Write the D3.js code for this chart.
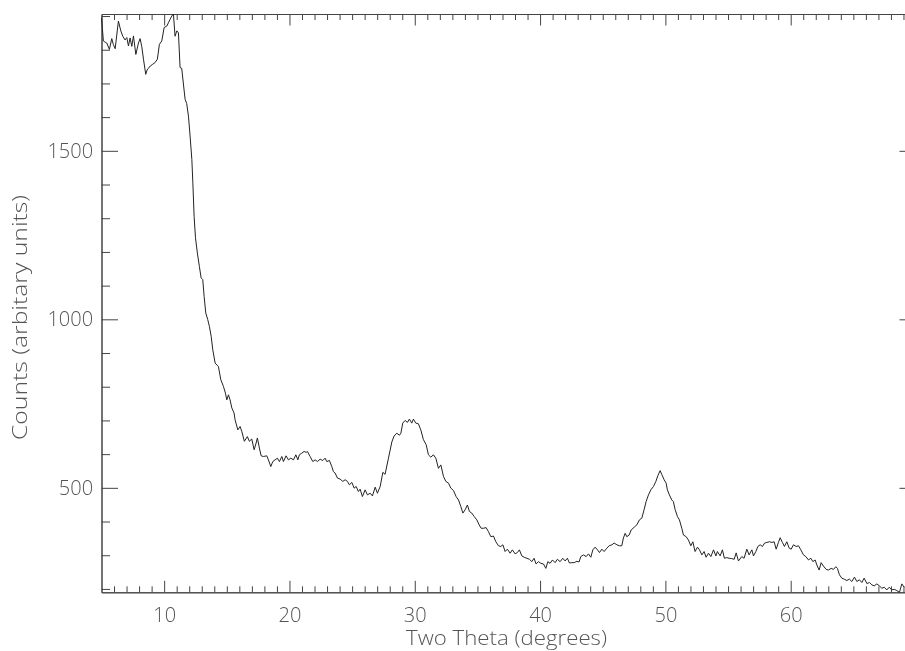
<!DOCTYPE html>
<html>
<head>
<meta charset="utf-8">
<script src="https://cdn.jsdelivr.net/npm/d3@7"></script>
<style>
  html, body { margin: 0; padding: 0; background: #fff; }
  svg { display: block; filter: grayscale(100%); }
  .lbl { font-family: "Open Sans", "DejaVu Sans", sans-serif; font-weight: 300; fill: #555; }
</style>
</head>
<body>
<svg id="chart" width="905" height="651"></svg>
<script>
// Diffraction scan: two-theta angle (degrees) and detector counts
const twoTheta = [
  5.00, 5.15, 5.30, 5.42, 5.63, 5.82, 5.95, 6.09, 6.35, 6.54, 6.70, 6.88, 7.02, 7.15, 7.28, 7.42,
  7.55, 7.74, 7.95, 8.08, 8.21, 8.35, 8.53, 8.64, 8.74, 8.90, 9.09, 9.28, 9.46, 9.62, 9.81, 10.00,
  10.21, 10.34, 10.47, 10.61, 10.74, 10.87, 11.01, 11.14, 11.27, 11.40, 11.67, 11.80, 11.94, 12.07,
  12.21, 12.29, 12.39, 12.50, 12.65, 12.81, 12.95, 13.08, 13.19, 13.32, 13.48, 13.61, 13.75, 13.88,
  14.07, 14.33, 14.52, 14.73, 14.89, 15.00, 15.13, 15.26, 15.40, 15.58, 15.66, 15.88, 16.06, 16.20,
  16.40, 16.64, 16.80, 16.99, 17.18, 17.34, 17.44, 17.60, 17.74, 17.92, 18.19, 18.32, 18.51, 18.67,
  18.85, 19.04, 19.20, 19.39, 19.52, 19.73, 19.92, 20.11, 20.32, 20.51, 20.67, 20.79, 20.99, 21.17,
  21.33, 21.43, 21.65, 21.86, 22.05, 22.23, 22.45, 22.66, 22.84, 22.98, 23.19, 23.38, 23.51, 23.64,
  23.83, 24.04, 24.26, 24.44, 24.63, 24.78, 24.98, 25.16, 25.32, 25.50, 25.64, 25.82, 26.04, 26.22,
  26.44, 26.62, 26.84, 27.02, 27.24, 27.45, 27.63, 27.90, 28.17, 28.35, 28.57, 28.78, 28.89, 29.04,
  29.23, 29.41, 29.57, 29.76, 29.89, 30.08, 30.29, 30.48, 30.69, 30.91, 31.09, 31.28, 31.49, 31.68,
  31.89, 32.08, 32.29, 32.48, 32.69, 32.88, 33.09, 33.30, 33.49, 33.68, 33.84, 34.02, 34.20, 34.36,
  34.55, 34.74, 34.95, 35.14, 35.30, 35.48, 35.69, 35.88, 36.07, 36.28, 36.47, 36.68, 36.87, 37.03,
  37.21, 37.39, 37.61, 37.79, 38.01, 38.19, 38.35, 38.54, 38.73, 38.94, 39.15, 39.34, 39.52, 39.68,
  39.87, 40.06, 40.27, 40.46, 40.62, 40.80, 40.99, 41.20, 41.38, 41.60, 41.81, 42.00, 42.18, 42.34,
  42.53, 42.72, 42.93, 43.11, 43.25, 43.46, 43.68, 43.86, 44.05, 44.21, 44.39, 44.58, 44.74, 44.93,
  45.11, 45.33, 45.51, 45.73, 45.91, 46.13, 46.33, 46.52, 46.65, 46.79, 46.92, 47.11, 47.27, 47.51,
  47.72, 47.93, 48.12, 48.30, 48.46, 48.65, 48.84, 49.05, 49.24, 49.40, 49.58, 49.72, 49.90, 50.06,
  50.16, 50.32, 50.51, 50.64, 50.78, 50.96, 51.12, 51.31, 51.44, 51.66, 51.84, 52.03, 52.19, 52.37,
  52.56, 52.72, 52.91, 53.09, 53.25, 53.44, 53.63, 53.84, 54.03, 54.15, 54.37, 54.55, 54.71, 54.90,
  55.09, 55.30, 55.49, 55.65, 55.83, 56.10, 56.28, 56.50, 56.68, 56.90, 57.03, 57.22, 57.38, 57.56,
  57.75, 57.91, 58.10, 58.31, 58.50, 58.68, 58.84, 59.02, 59.16, 59.34, 59.50, 59.69, 59.88, 60.04,
  60.22, 60.43, 60.62, 60.81, 61.02, 61.21, 61.42, 61.61, 61.77, 61.95, 62.09, 62.27, 62.43, 62.61,
  62.83, 63.01, 63.23, 63.41, 63.60, 63.73, 63.89, 64.08, 64.27, 64.48, 64.69, 64.88, 65.09, 65.28,
  65.49, 65.68, 65.86, 66.08, 66.29, 66.48, 66.66, 66.88, 67.08, 67.28, 67.46, 67.67, 67.86, 68.07,
  68.26, 68.47, 68.68, 68.87, 69.06
];
const counts = [
  1895, 1826, 1822, 1820, 1801, 1833, 1815, 1803, 1885, 1856, 1840, 1829, 1836, 1811, 1835, 1810,
  1841, 1786, 1820, 1833, 1810, 1772, 1727, 1740, 1745, 1752, 1757, 1762, 1772, 1816, 1826, 1866,
  1870, 1880, 1890, 1900, 1906, 1840, 1856, 1850, 1747, 1745, 1653, 1640, 1603, 1544,
  1474, 1405, 1306, 1242, 1197, 1157, 1123, 1118, 1068, 1019, 999, 979, 950, 910,
  870, 860, 821, 801, 781, 761, 776, 761, 737, 722, 702, 672, 682, 667,
  638, 652, 638, 645, 613, 633, 648, 618, 595, 593, 595, 583, 563, 578,
  583, 588, 578, 593, 578, 595, 583, 588, 583, 598, 583, 598, 603, 608,
  605, 608, 593, 578, 583, 578, 585, 581, 588, 578, 581, 563, 548, 544,
  529, 526, 519, 524, 519, 509, 516, 499, 504, 489, 496, 474, 494, 479,
  484, 476, 502, 484, 504, 546, 540, 588, 636, 654, 662, 656, 662, 692,
  700, 694, 704, 692, 704, 692, 690, 672, 643, 628, 598, 591, 598, 588,
  558, 568, 534, 519, 514, 499, 492, 474, 464, 444, 425, 435, 449, 430,
  425, 415, 405, 390, 380, 380, 382, 370, 355, 357, 340, 328, 326, 331,
  311, 318, 306, 316, 304, 308, 316, 298, 294, 291, 288, 281, 291, 274,
  281, 276, 274, 261, 281, 276, 286, 278, 288, 281, 291, 283, 291, 277,
  278, 278, 282, 280, 296, 301, 296, 304, 294, 316, 324, 316, 308, 318,
  311, 321, 328, 331, 336, 331, 328, 328, 351, 365, 355, 360, 375, 383,
  390, 405, 410, 435, 459, 479, 494, 504, 519, 536, 551, 539, 524, 514,
  494, 479, 464, 459, 435, 415, 405, 380, 360, 355, 345, 328, 340, 311,
  324, 316, 301, 311, 294, 306, 296, 316, 298, 311, 298, 316, 291, 293,
  291, 290, 288, 307, 283, 296, 291, 318, 301, 316, 298, 311, 326, 331,
  326, 336, 338, 340, 338, 340, 318, 338, 352, 338, 326, 340, 321, 318,
  331, 326, 328, 316, 301, 296, 286, 291, 281, 286, 271, 256, 278, 268,
  258, 256, 261, 258, 266, 261, 242, 232, 229, 225, 229, 222, 235, 222,
  227, 219, 232, 216, 219, 212, 209, 215, 209, 202, 205, 197, 205, 197,
  199, 195, 190, 215, 205
];

// Axis ranges and tick positions
const xRange = [5, 70];
const xMajorTicks = [10, 20, 30, 40, 50, 60];
const xMinorTicks = d3.range(6, 70, 1).filter(v => v % 10 !== 0);
const yMajorTicks = [500, 1000, 1500];
const yMinorTicks = d3.range(200, 2000, 100).filter(v => v % 500 !== 0);
const xTitle = "Two Theta (degrees)";
const yTitle = "Counts (arbitary units)";

const svg = d3.select("#chart");
const plotLeft = 101.5, plotRight = 916, plotTop = 14, plotBottom = 592.3;

const x = d3.scaleLinear().domain(xRange).range([plotLeft, plotRight]);
const y = d3.scaleLinear().domain(d3.extent(counts)).range([plotBottom, plotTop]);

const axisColor = "#444";
const fontSize = 20;
const fontStack = '"Open Sans", "DejaVu Sans", sans-serif';

function styleAxis(g) {
  g.selectAll("path.domain").attr("stroke", axisColor).attr("stroke-width", 1);
  g.selectAll(".tick line").attr("stroke", axisColor).attr("stroke-width", 1);
  g.selectAll(".tick text")
    .attr("class", "lbl")
    .attr("font-size", fontSize)
    .style("font-family", fontStack)
    .style("font-weight", 300)
    .attr("fill", "#555");
}

// Bottom axis: labelled majors plus minor ticks, all pointing inward
svg.append("g").attr("transform", `translate(0,${plotBottom})`)
  .call(d3.axisBottom(x).tickValues(xMinorTicks).tickSize(-6).tickSizeOuter(0).tickFormat(""))
  .call(styleAxis);
svg.append("g").attr("transform", `translate(0,${plotBottom})`)
  .call(d3.axisBottom(x).tickValues(xMajorTicks).tickSize(-11.5).tickSizeOuter(0).tickPadding(15.5).tickFormat(d3.format("d")))
  .call(styleAxis);

// Top axis mirrors the bottom ticks without labels
svg.append("g").attr("transform", `translate(0,${plotTop})`)
  .call(d3.axisTop(x).tickValues(xMinorTicks).tickSize(-6).tickSizeOuter(0).tickFormat(""))
  .call(styleAxis);
svg.append("g").attr("transform", `translate(0,${plotTop})`)
  .call(d3.axisTop(x).tickValues(xMajorTicks).tickSize(-11.5).tickSizeOuter(0).tickFormat(""))
  .call(styleAxis);

// Left axis with count labels
svg.append("g").attr("transform", `translate(${plotLeft},0)`)
  .call(d3.axisLeft(y).tickValues(yMinorTicks).tickSize(-8.5).tickSizeOuter(0).tickFormat(""))
  .call(styleAxis);
svg.append("g").attr("transform", `translate(${plotLeft},0)`)
  .call(d3.axisLeft(y).tickValues(yMajorTicks).tickSize(-16.5).tickSizeOuter(0).tickPadding(8.4).tickFormat(d3.format("d")))
  .call(styleAxis);

// Right axis mirrors the left one
svg.append("g").attr("transform", `translate(${plotRight},0)`)
  .call(d3.axisRight(y).tickValues(yMinorTicks).tickSize(-8.5).tickSizeOuter(0).tickFormat(""))
  .call(styleAxis);
svg.append("g").attr("transform", `translate(${plotRight},0)`)
  .call(d3.axisRight(y).tickValues(yMajorTicks).tickSize(-16.5).tickSizeOuter(0).tickFormat(""))
  .call(styleAxis);

// Scan curve
const line = d3.line()
  .x((d, i) => x(twoTheta[i]))
  .y(d => y(d));
svg.append("path")
  .datum(counts)
  .attr("fill", "none")
  .attr("stroke", "#222")
  .attr("stroke-width", 1)
  .attr("stroke-linejoin", "round")
  .attr("d", line);

// Axis titles
svg.append("text").attr("class", "lbl")
  .attr("x", 506.5).attr("y", 645)
  .attr("text-anchor", "middle")
  .attr("font-size", fontSize)
  .attr("textLength", 201)
  .attr("lengthAdjust", "spacingAndGlyphs")
  .text(xTitle);
svg.append("text").attr("class", "lbl")
  .attr("transform", "translate(27,317.5) rotate(-90)")
  .attr("text-anchor", "middle")
  .attr("font-size", fontSize)
  .attr("textLength", 245)
  .attr("lengthAdjust", "spacingAndGlyphs")
  .text(yTitle);
</script>
</body>
</html>
